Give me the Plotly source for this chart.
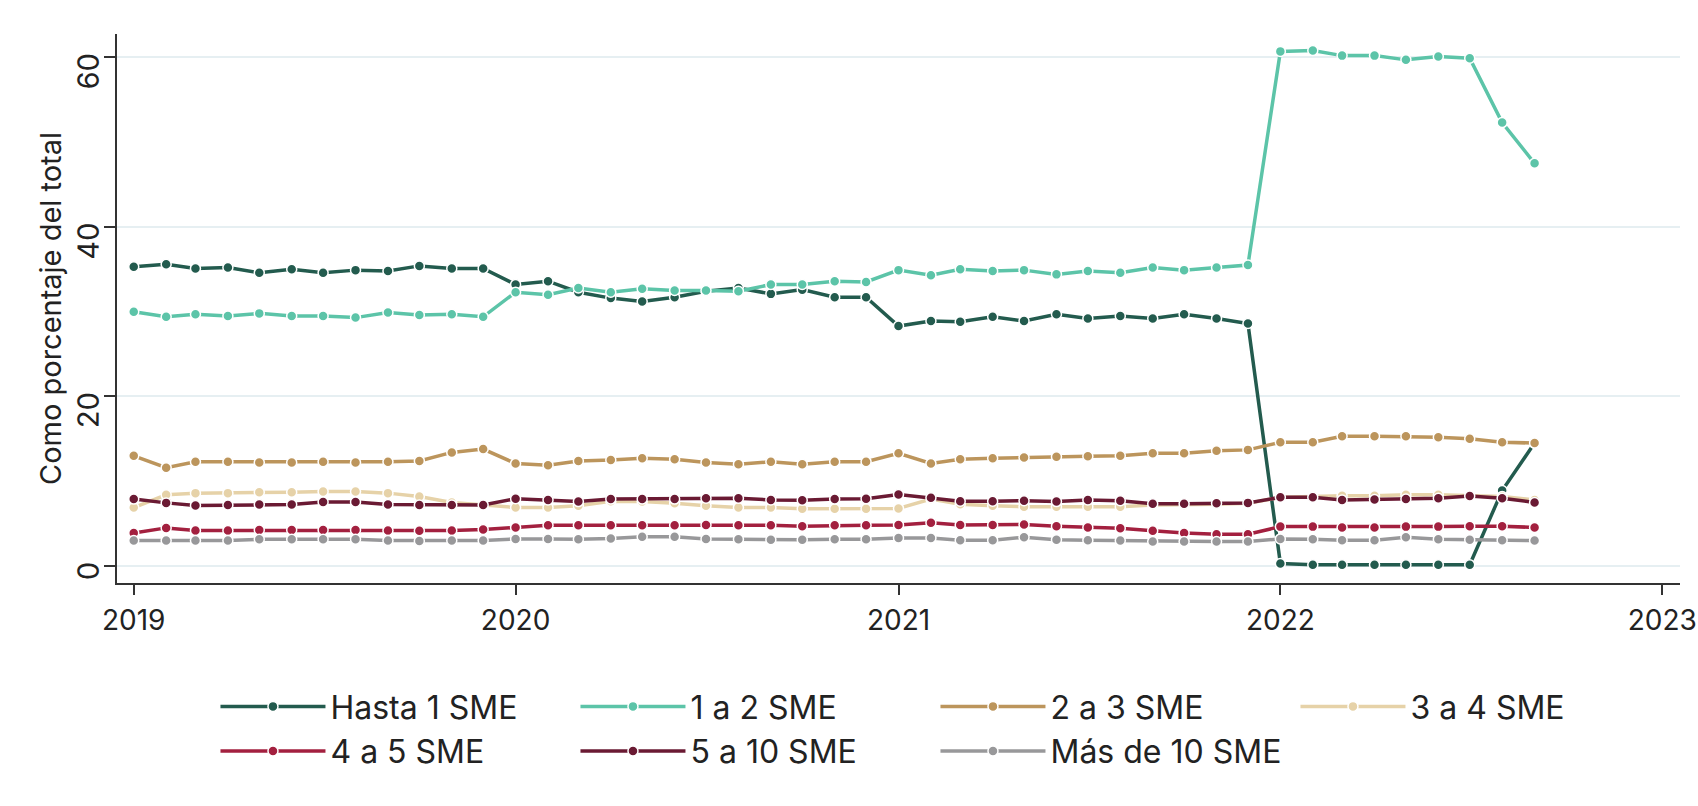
import pandas as pd
import plotly.graph_objects as go

months = pd.date_range("2019-01-01", periods=45, freq="MS")

series_names = ["Hasta 1 SME", "1 a 2 SME", "2 a 3 SME", "3 a 4 SME",
                "4 a 5 SME", "5 a 10 SME", "Más de 10 SME"]

hasta_1 = [35.3, 35.6, 35.1, 35.2, 34.6, 35.0, 34.6, 34.9, 34.8, 35.4, 35.1, 35.1,
           33.2, 33.6, 32.3, 31.6, 31.2, 31.7, 32.4, 32.8, 32.1, 32.6, 31.7, 31.7,
           28.3, 28.9, 28.8, 29.4, 28.9, 29.7, 29.2, 29.5, 29.2, 29.7, 29.2, 28.6,
           0.3, 0.15, 0.15, 0.15, 0.15, 0.15, 0.15, 8.9, 14.5]
uno_dos = [30.0, 29.4, 29.7, 29.5, 29.8, 29.5, 29.5, 29.3, 29.9, 29.6, 29.7, 29.4,
           32.3, 32.0, 32.8, 32.3, 32.7, 32.5, 32.5, 32.4, 33.2, 33.2, 33.6, 33.5,
           34.9, 34.3, 35.0, 34.8, 34.9, 34.4, 34.8, 34.6, 35.2, 34.9, 35.2, 35.5,
           60.7, 60.8, 60.2, 60.2, 59.7, 60.1, 59.9, 52.3, 47.5]
dos_tres = [13.0, 11.6, 12.3, 12.3, 12.2, 12.2, 12.3, 12.2, 12.3, 12.4, 13.4, 13.8,
            12.1, 11.9, 12.4, 12.5, 12.7, 12.6, 12.2, 12.0, 12.3, 12.0, 12.3, 12.3,
            13.3, 12.1, 12.6, 12.7, 12.8, 12.9, 12.95, 13.0, 13.3, 13.3, 13.6, 13.7,
            14.6, 14.6, 15.3, 15.3, 15.3, 15.2, 15.0, 14.6, 14.5]
tres_cuatro = [6.9, 8.4, 8.6, 8.6, 8.7, 8.7, 8.8, 8.8, 8.6, 8.2, 7.5, 7.25,
               6.9, 6.9, 7.1, 7.65, 7.6, 7.4, 7.1, 6.9, 6.9, 6.75, 6.75, 6.75,
               6.8, 7.9, 7.3, 7.1, 7.0, 7.0, 7.0, 7.0, 7.2, 7.2, 7.3, 7.4,
               8.1, 8.2, 8.3, 8.3, 8.4, 8.4, 8.3, 8.2, 7.8]
cuatro_cinco = [3.9, 4.5, 4.2, 4.2, 4.25, 4.25, 4.25, 4.25, 4.2, 4.15, 4.2, 4.3,
                4.55, 4.8, 4.8, 4.8, 4.8, 4.8, 4.85, 4.8, 4.8, 4.7, 4.8, 4.8,
                4.85, 5.1, 4.85, 4.85, 4.9, 4.7, 4.55, 4.45, 4.15, 3.9, 3.75, 3.75,
                4.65, 4.65, 4.55, 4.55, 4.65, 4.65, 4.7, 4.7, 4.55]
cinco_diez = [7.9, 7.45, 7.15, 7.2, 7.25, 7.25, 7.55, 7.55, 7.25, 7.2, 7.2, 7.2,
              7.95, 7.8, 7.6, 7.9, 7.9, 7.9, 8.0, 8.0, 7.8, 7.75, 7.9, 7.95,
              8.45, 8.05, 7.65, 7.65, 7.7, 7.6, 7.8, 7.7, 7.35, 7.35, 7.4, 7.45,
              8.1, 8.1, 7.8, 7.85, 7.9, 8.0, 8.25, 8.0, 7.5]
mas_diez = [3.0, 3.0, 3.0, 3.0, 3.15, 3.15, 3.15, 3.15, 3.0, 2.95, 3.0, 3.0,
            3.2, 3.2, 3.15, 3.25, 3.45, 3.45, 3.2, 3.15, 3.1, 3.1, 3.15, 3.15,
            3.3, 3.3, 3.05, 3.05, 3.4, 3.1, 3.05, 3.0, 2.9, 2.9, 2.9, 2.9,
            3.2, 3.15, 3.05, 3.05, 3.4, 3.15, 3.1, 3.05, 3.0]

all_series = [hasta_1, uno_dos, dos_tres, tres_cuatro, cuatro_cinco, cinco_diez, mas_diez]
colors = ["#235b4e", "#5cc4a8", "#bc955c", "#e6d2a8", "#a3203f", "#6a1a33", "#98989a"]

year_ticks = ["2019-01-01", "2020-01-01", "2021-01-01", "2022-01-01", "2023-01-01"]
year_labels = ["2019", "2020", "2021", "2022", "2023"]
y_ticks = [0, 20, 40, 60]

FONT = "Inter, 'Open Sans', sans-serif"

fig = go.Figure()
for name, vals, col in zip(series_names, all_series, colors):
    fig.add_trace(go.Scatter(
        x=months, y=vals, name=name, mode="lines+markers",
        line=dict(color=col, width=3.5),
        marker=dict(color=col, size=10, line=dict(color="white", width=1.5)),
    ))

fig.update_layout(
    width=1698, height=806,
    margin=dict(l=117, r=18, t=34, b=223, autoexpand=False),
    paper_bgcolor="white", plot_bgcolor="white",
    font=dict(family=FONT, color="#222222"),
    showlegend=True,
    legend=dict(
        orientation="h", x=0.063, xanchor="left", y=-0.175, yanchor="top",
        font=dict(size=32, family=FONT, color="#222222"),
        itemwidth=105, entrywidth=240, entrywidthmode="pixels",
        tracegroupgap=0, bgcolor="rgba(0,0,0,0)",
    ),
    xaxis=dict(
        range=["2018-12-16", "2023-01-18"],
        tickvals=year_ticks, ticktext=year_labels,
        ticks="outside", ticklen=10, tickwidth=2, tickcolor="#333333",
        showline=True, linecolor="#333333", linewidth=2,
        showgrid=False, zeroline=False, automargin=False,
        ticklabelstandoff=1, ticklabeloverflow="allow",
        tickfont=dict(size=28, family=FONT, color="#222222"),
    ),
    yaxis=dict(
        range=[-2.0, 62.75],
        tickvals=y_ticks,
        ticks="outside", ticklen=11, tickwidth=2, tickcolor="#333333",
        showline=True, linecolor="#333333", linewidth=2,
        showgrid=True, gridcolor="#e6eff2", gridwidth=2,
        zeroline=False, tickangle=-89.5, automargin=False,
        ticklabelstandoff=14,
        tickfont=dict(size=29, family=FONT, color="#222222"),
        title=dict(text="Como porcentaje del total", standoff=0,
                   font=dict(size=29, family=FONT, color="#222222")),
    ),
)

fig.write_html("out.html", config={"displayModeBar": False},
               post_script="document.body.style.margin='0';document.body.style.overflow='hidden';")
